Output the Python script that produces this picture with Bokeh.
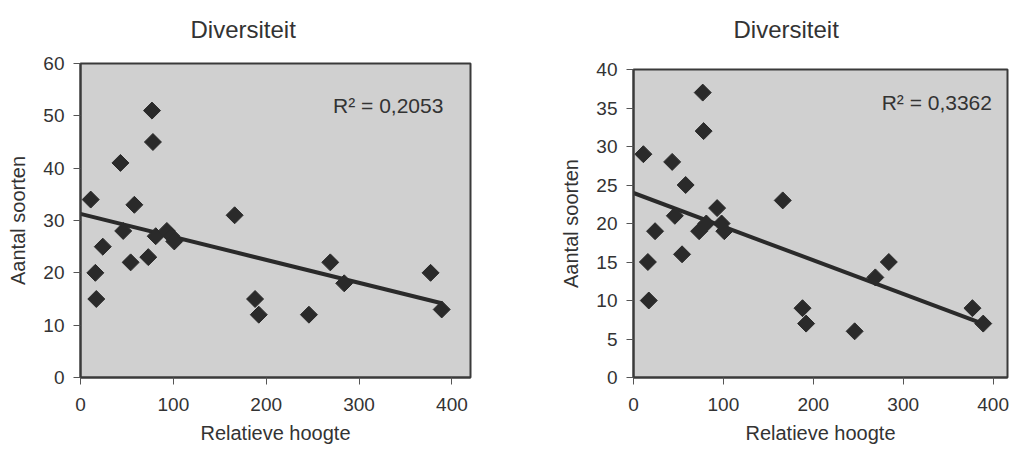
import numpy as np
from bokeh.plotting import figure
from bokeh.layouts import row
from bokeh.models import FixedTicker, Label, Range1d, Title
from bokeh.embed import file_html
from bokeh.resources import INLINE

# ---- data ----
hoogte = [11, 16, 17, 24, 43, 46, 54, 58, 73, 77, 78, 81, 93, 98, 101,
          166, 188, 192, 246, 269, 284, 377, 389]
soorten_links = [34, 20, 15, 25, 41, 28, 22, 33, 23, 51, 45, 27, 28, 27, 26,
                 31, 15, 12, 12, 22, 18, 20, 13]
soorten_rechts = [29, 15, 10, 19, 28, 21, 16, 25, 19, 37, 32, 20, 22, 20, 19,
                  23, 9, 7, 6, 13, 15, 9, 7]
r2_links = "R² = 0,2053"
r2_rechts = "R² = 0,3362"
titel = "Diversiteit"
x_label = "Relatieve hoogte"
y_label = "Aantal soorten"
x_ticks = [0, 100, 200, 300, 400]
y_ticks_links = [0, 10, 20, 30, 40, 50, 60]
y_ticks_rechts = [0, 5, 10, 15, 20, 25, 30, 35, 40]

FONT = "Liberation Sans"
TXT = "#333333"
DARK = "#2a2a2a"
BG = "#d0d0d0"


def make(ys, r2, yticks, ymax, xmax, width, bl, br, bt, title_off,
         spacer, r2x, r2y):
    p = figure(width=width, height=452, output_backend="svg",
               toolbar_location=None, tools="",
               x_range=Range1d(0, xmax), y_range=Range1d(0, ymax),
               min_border_left=bl, min_border_right=br,
               min_border_top=bt, min_border_bottom=75)
    try:
        p.frame_align = False
    except Exception:
        pass
    p.background_fill_color = BG
    p.border_fill_color = "white"
    p.outline_line_color = "#3a3a3a"
    p.outline_line_width = 2
    p.grid.visible = False

    # the visible title (outer position)
    p.title.text = titel
    p.title.text_font = FONT
    p.title.text_font_size = "24px"
    p.title.text_font_style = "normal"
    p.title.text_color = TXT
    p.title.align = "left"
    p.title.offset = title_off
    p.title.vertical_align = "top"
    p.title.standoff = 30
    # small empty title next to the frame acts as a gap
    p.add_layout(Title(text=" ", text_font_size="2px", standoff=spacer),
                 "above")

    for ax in (p.xaxis[0], p.yaxis[0]):
        ax.axis_line_color = "#3a3a3a"
        ax.axis_line_width = 2
        ax.major_tick_line_color = "#555555"
        ax.major_tick_line_width = 1
        ax.major_tick_in = 0
        ax.major_tick_out = 7
        ax.minor_tick_line_color = None
        ax.major_label_text_font = FONT
        ax.major_label_text_font_size = "19px"
        ax.major_label_text_color = TXT
        ax.axis_label_text_font = FONT
        ax.axis_label_text_font_size = "20px"
        ax.axis_label_text_font_style = "normal"
        ax.axis_label_text_color = TXT

    p.xaxis.ticker = FixedTicker(ticks=x_ticks)
    p.yaxis.ticker = FixedTicker(ticks=yticks)
    p.xaxis.axis_label = x_label
    p.yaxis.axis_label = y_label
    p.xaxis.major_label_standoff = 13
    p.xaxis.axis_label_standoff = 8
    p.yaxis.major_label_standoff = 9
    p.yaxis.axis_label_standoff = 11

    # linear trend line fitted to the data
    a, b = np.polyfit(hoogte, ys, 1)
    xl = [0, max(hoogte)]
    p.line(xl, [b + a * v for v in xl], line_color=DARK, line_width=4)

    p.scatter(hoogte, ys, marker="square", angle=45, angle_units="deg",
              size=12, fill_color=DARK, line_color=DARK)

    p.add_layout(Label(x=r2x, y=r2y, text=r2, text_font=FONT,
                       text_font_size="21px", text_color=TXT,
                       text_baseline="middle"))
    return p


p1 = make(soorten_links, r2_links, y_ticks_links, 60, 420, 508, 80, 38, 62,
          110, 0, 272, 52)
p2 = make(soorten_rechts, r2_rechts, y_ticks_rechts, 40, 416, 503, 125, 4, 67,
          100, 6, 276, 35.7)

layout = row(p1, p2)
open("out.html", "w").write(file_html(layout, INLINE))
